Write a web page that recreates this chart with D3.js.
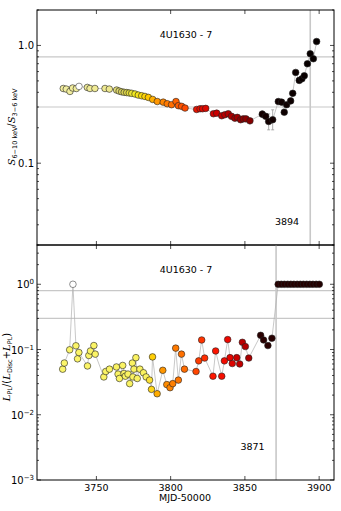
<!DOCTYPE html>
<html><head><meta charset="utf-8">
<script src="https://cdn.jsdelivr.net/npm/d3@7"></script>
<style>body{margin:0;background:#fff}svg{display:block}text{font-family:"DejaVu Sans",sans-serif}</style>
</head><body>
<script>
// ---- data ----
const title = "4U1630 - 7";
const xTicks = [3750, 3800, 3850, 3900];
const xLabel = "MJD-50000";
const hardMJD = [3727.7,3729.7,3732.2,3734.0,3736.5,3738.3,3743.9,3745.7,3749.0,3755.8,3758.7,3763.6,3765.3,3767.0,3768.7,3770.4,3772.1,3773.8,3776.0,3778.2,3780.5,3782.7,3785.0,3787.9,3791.0,3795.0,3797.7,3800.6,3803.6,3805.2,3807.4,3809.7,3817.5,3819.8,3821.5,3823.6,3828.8,3831.0,3834.4,3836.5,3838.8,3841.0,3843.3,3844.9,3847.1,3848.9,3850.7,3853.4,3861.7,3864.0,3866.0,3868.7,3872.5,3874.7,3876.5,3878.1,3880.8,3882.2,3884.2,3886.6,3888.4,3890.0,3892.1,3894.0,3896.1,3898.3];
const hardVal = [0.431,0.426,0.407,0.435,0.431,0.449,0.440,0.431,0.431,0.431,0.426,0.418,0.410,0.404,0.400,0.398,0.395,0.392,0.387,0.379,0.374,0.369,0.362,0.348,0.334,0.330,0.320,0.314,0.334,0.308,0.304,0.294,0.286,0.290,0.290,0.292,0.263,0.266,0.253,0.258,0.263,0.250,0.241,0.245,0.234,0.238,0.238,0.229,0.261,0.250,0.226,0.234,0.334,0.330,0.271,0.314,0.338,0.392,0.590,0.505,0.521,0.553,0.699,0.850,0.771,1.080];
const hardErrMJD = [3861.7, 3866.0, 3868.7];
const hardErrLo = [0.245, 0.192, 0.192];
const hardErrHi = [0.278, 0.262, 0.284];
const hardTickVals = [0.1, 1.0];
const hardTickLabels = ["0.1", "1.0"];
const hardLine = 3894;
const hardWhite = 3738.3;

const fracMJD = [3727.3,3728.4,3732.0,3734.2,3736.2,3737.3,3738.2,3744.0,3744.9,3746.0,3748.3,3749.2,3755.0,3756.3,3758.8,3763.5,3764.6,3765.5,3767.7,3768.6,3769.5,3771.3,3772.4,3774.2,3774.6,3775.3,3776.6,3777.5,3779.3,3781.7,3783.5,3785.8,3787.1,3787.8,3790.9,3794.7,3797.4,3799.6,3801.4,3803.4,3805.2,3807.3,3809.3,3817.1,3818.9,3820.9,3822.9,3828.5,3830.3,3834.4,3836.2,3838.4,3840.0,3841.5,3844.5,3846.5,3848.3,3850.3,3852.6,3860.6,3862.6,3865.5,3868.2,3872.4,3874.5,3876.6,3878.8,3880.9,3883.0,3885.2,3887.3,3889.4,3891.6,3893.7,3895.8,3898.0,3900.1];
const fracVal = [0.050,0.062,0.099,1.0,0.114,0.072,0.090,0.056,0.081,0.095,0.115,0.085,0.038,0.046,0.050,0.054,0.042,0.036,0.057,0.043,0.039,0.042,0.030,0.062,0.038,0.050,0.075,0.036,0.050,0.044,0.038,0.034,0.0245,0.077,0.021,0.048,0.029,0.026,0.030,0.105,0.034,0.085,0.050,0.046,0.067,0.140,0.074,0.039,0.095,0.039,0.067,0.142,0.075,0.061,0.075,0.060,0.129,0.111,0.074,0.165,0.140,0.115,0.149,1,1,1,1,1,1,1,1,1,1,1,1,1,1];
const fracTickExp = [-3, -2, -1, 0];
const fracLine = 3871;
const fracWhite = 3734.2;
const refLevels = [0.8, 0.3];

// ---- layout ----
const W = 341, H = 511;
const L = 37, R = 334;
const svg = d3.select("body").append("svg").attr("width", W).attr("height", H);
const x = d3.scaleLinear().domain([3710, 3910]).range([L, R]);

const colTop = d3.scaleLinear()
  .domain([3725, 3760, 3768, 3776, 3784, 3790, 3800, 3810, 3818, 3830, 3845, 3855, 3860, 3900])
  .range(["#f3efa2", "#eee88e", "#d6cf5a", "#f2ea20", "#ffd000", "#ff9a00", "#ff7000", "#ff4a00", "#e81000", "#cc0000", "#a00000", "#800000", "#150000", "#050000"])
  .clamp(true);
const colBot = d3.scaleLinear()
  .domain([3725, 3784, 3788, 3792, 3800, 3810, 3818, 3828, 3838, 3845, 3855, 3859, 3900])
  .range(["#fbf56a", "#faf260", "#ffcc00", "#ffa000", "#ff8200", "#ff6a00", "#ff4000", "#ff1800", "#f00800", "#c80000", "#a00000", "#2a0000", "#220000"])
  .clamp(true);

function panel(y0, y1, yDomain, mjd, val, color, whiteMJD, vline, vlabel, labelPos, tickFmt, errs) {
  const y = d3.scaleLog().domain(yDomain).range([y1, y0]);
  const g = svg.append("g");
  refLevels.forEach(v => {
    g.append("line").attr("x1", L).attr("x2", R).attr("y1", y(v)).attr("y2", y(v))
      .attr("stroke", "#c8c8c8").attr("stroke-width", 1.2);
  });
  g.append("line").attr("x1", x(vline)).attr("x2", x(vline)).attr("y1", y0).attr("y2", y1)
    .attr("stroke", "#c8c8c8").attr("stroke-width", 1.6);
  const pts = mjd.map((m, i) => [m, val[i]]);
  g.append("path").datum(pts)
    .attr("d", d3.line().x(d => x(d[0])).y(d => y(d[1])))
    .attr("fill", "none").attr("stroke", "#b0b0b0").attr("stroke-width", 0.7);
  if (errs) {
    errs.mjd.forEach((m, i) => {
      g.append("line").attr("x1", x(m)).attr("x2", x(m)).attr("y1", y(errs.lo[i])).attr("y2", y(errs.hi[i]))
        .attr("stroke", "#999").attr("stroke-width", 0.8);
      [errs.lo[i], errs.hi[i]].forEach(v => g.append("line").attr("x1", x(m) - 1.5).attr("x2", x(m) + 1.5)
        .attr("y1", y(v)).attr("y2", y(v)).attr("stroke", "#999").attr("stroke-width", 0.8));
    });
  }
  g.selectAll("circle.pt").data(pts).join("circle")
    .attr("cx", d => x(d[0])).attr("cy", d => y(d[1])).attr("r", 3.3)
    .attr("fill", d => d[0] === whiteMJD ? "#ffffff" : color(d[0]))
    .attr("stroke", d => d[0] === whiteMJD ? "#444" : "#222").attr("stroke-width", 0.6);
  g.append("rect").attr("x", L).attr("y", y0).attr("width", R - L).attr("height", y1 - y0)
    .attr("fill", "none").attr("stroke", "#000").attr("stroke-width", 1);
  xTicks.forEach(t => {
    g.append("line").attr("x1", x(t)).attr("x2", x(t)).attr("y1", y1).attr("y2", y1 - 4).attr("stroke", "#000").attr("stroke-width", 0.7);
    g.append("line").attr("x1", x(t)).attr("x2", x(t)).attr("y1", y0).attr("y2", y0 + 4).attr("stroke", "#000").attr("stroke-width", 0.7);
  });
  const lo = Math.floor(Math.log10(yDomain[0])), hi = Math.ceil(Math.log10(yDomain[1]));
  for (let e = lo; e <= hi; e++) {
    for (let k = 1; k <= 9; k++) {
      const v = k * Math.pow(10, e);
      if (v < yDomain[0] * 0.999 || v > yDomain[1] * 1.001) continue;
      const len = k === 1 ? 4 : 2;
      g.append("line").attr("x1", L).attr("x2", L + len).attr("y1", y(v)).attr("y2", y(v)).attr("stroke", "#000").attr("stroke-width", 0.7);
      g.append("line").attr("x1", R).attr("x2", R - len).attr("y1", y(v)).attr("y2", y(v)).attr("stroke", "#000").attr("stroke-width", 0.7);
    }
  }
  tickFmt(g, y);
  g.append("text").attr("x", 186).attr("y", y0 + 27.5).attr("text-anchor", "middle").attr("font-size", 9.5).text(title);
  g.append("text").attr("x", labelPos[0]).attr("y", labelPos[1]).attr("text-anchor", "middle").attr("font-size", 9.5).text(vlabel);
  return y;
}

panel(10, 245, [0.0202, 2.0], hardMJD, hardVal, colTop, hardWhite, hardLine, String(hardLine), [287, 225],
  (g, y) => {
    hardTickVals.forEach((v, i) => g.append("text").attr("x", 34).attr("y", y(v) + 3.5)
      .attr("text-anchor", "end").attr("font-size", 10).text(hardTickLabels[i]));
  },
  { mjd: hardErrMJD, lo: hardErrLo, hi: hardErrHi });

panel(245, 480, [0.001, 4.0], fracMJD, fracVal, colBot, fracWhite, fracLine, String(fracLine), [252.5, 449.5],
  (g, y) => {
    fracTickExp.forEach(e => {
      const t = g.append("text").attr("x", 34).attr("y", y(Math.pow(10, e)) + 4).attr("text-anchor", "end").attr("font-size", 10);
      t.append("tspan").text("10");
      t.append("tspan").attr("dy", -4).attr("font-size", 7).text(e < 0 ? "\u2212" + (-e) : String(e));
    });
  });

xTicks.forEach(t => svg.append("text").attr("x", x(t)).attr("y", 491).attr("text-anchor", "middle").attr("font-size", 9.5).text(t));
svg.append("text").attr("x", 185).attr("y", 500.5).attr("text-anchor", "middle").attr("font-size", 9.5).text(xLabel);

function mathLabel(cx, cy, parts) {
  const t = svg.append("text").attr("transform", `translate(${cx},${cy}) rotate(-90)`).attr("text-anchor", "middle").attr("font-size", 10);
  parts.forEach(p => {
    const s = t.append("tspan").text(p.t);
    if (p.it) s.attr("font-style", "italic").attr("font-family", "DejaVu Serif, serif");
    if (p.sub) s.attr("font-size", 6.5).attr("dy", p.dy || 0);
    else if (p.dy) s.attr("dy", p.dy);
  });
}
mathLabel(15, 127, [
  { t: "S", it: true }, { t: "6\u221210 keV", sub: true, dy: 2 },
  { t: "/", dy: -2 }, { t: "S", it: true }, { t: "3\u22126 keV", sub: true, dy: 2 }
]);
mathLabel(10, 367, [
  { t: "L", it: true }, { t: "PL", sub: true, dy: 2 },
  { t: "/(", dy: -2 }, { t: "L", it: true }, { t: "Disc", sub: true, dy: 2 },
  { t: "+", dy: -2 }, { t: "L", it: true }, { t: "PL", sub: true, dy: 2 }, { t: ")", dy: -2 }
]);
</script>
</body></html>
